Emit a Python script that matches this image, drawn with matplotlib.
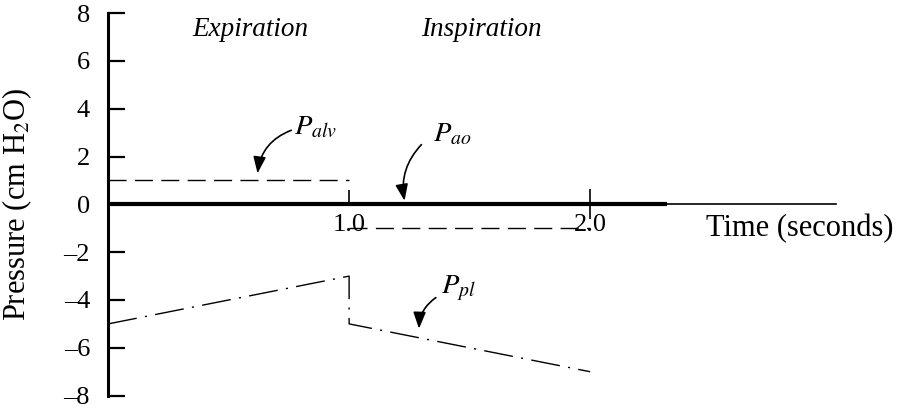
import matplotlib
matplotlib.use('Agg')
import matplotlib.pyplot as plt

# data (seconds / cm H2O)
t_exp = [0.0, 1.0]
t_insp = [1.0, 2.0]
p_alv_exp = [1, 1]
p_alv_insp = [-1, -1]
t_pl = [0.0, 1.0, 1.0, 2.0]
p_pl = [-5, -3, -5, -7]
t_ao = [0.0, 2.32]
p_ao = [0, 0]
yticks = [-8, -6, -4, -2, 0, 2, 4, 6, 8]

plt.rcParams['font.family'] = ['Liberation Serif', 'DejaVu Serif']
plt.rcParams['mathtext.fontset'] = 'stix'
fs = 19.5

fig = plt.figure(figsize=(9.01, 4.09), dpi=100)
ax = fig.add_axes([0.12, 0.0, 0.88, 1.0])
ax.set_xlim(0, 3.29)
ax.set_ylim(-8.56, 8.55)

# spines
for s in ['top', 'right']:
	ax.spines[s].set_visible(False)
ax.spines['left'].set_linewidth(2.2)
ax.spines['left'].set_bounds(-8, 8)
ax.spines['bottom'].set_position(('data', 0))
ax.spines['bottom'].set_bounds(0, 3.02)
ax.spines['bottom'].set_linewidth(1.2)

# y ticks
ax.set_yticks(yticks)
ax.set_yticklabels([f'{v}' if v >= 0 else f'\u2013{-v}' for v in yticks])
ax.tick_params(axis='y', direction='in', length=12, width=1.6, pad=13, labelsize=19)

# x ticks: 1.0 only up, 2.0 crosses the line
ax.set_xticks([1.0])
ax.set_xticklabels(['1.0'])
ax.set_xticks([2.0], minor=True)
ax.set_xticklabels(['2.0'], minor=True)
ax.tick_params(axis='x', which='major', direction='in', length=10, width=1.2, pad=7, labelsize=19)
ax.tick_params(axis='x', which='minor', direction='inout', length=22, width=1.2, pad=-4, labelsize=19)

# curves
ax.plot(t_ao, p_ao, color='black', lw=3, solid_capstyle='butt')
ax.plot(t_exp, p_alv_exp, color='black', lw=1, linestyle=(0, (13, 6)))
ax.plot(t_insp, p_alv_insp, color='black', lw=1, linestyle=(0, (13, 6)))
ax.plot(t_pl, p_pl, color='black', lw=1, linestyle=(0, (21, 6, 1.5, 6)))

# labels
ax.set_ylabel('Pressure (cm H$_2$O)', fontsize=22)
ax.yaxis.set_label_coords(-0.093, 0.5)
ax.text(2.87, -1.0, 'Time (seconds)', fontsize=22, ha='center', va='center')

ax.text(0.59, 7.3, 'Expiration', fontsize=fs, style='italic', ha='center', va='center')
ax.text(1.55, 7.3, 'Inspiration', fontsize=fs, style='italic', ha='center', va='center')

arrow = dict(arrowstyle='-|>,head_length=1.0,head_width=0.38', color='black', lw=1.2,
	shrinkA=0, shrinkB=0)
ax.text(0.77, 3.2, '$P_{alv}$', fontsize=fs + 1, ha='left', va='center')
ax.annotate('', xy=(0.62, 1.3), xytext=(0.76, 3.1),
	arrowprops=dict(arrow, connectionstyle='arc3,rad=0.3'))
ax.text(1.35, 2.9, '$P_{ao}$', fontsize=fs + 1, ha='left', va='center')
ax.annotate('', xy=(1.23, 0.15), xytext=(1.30, 2.5),
	arrowprops=dict(arrow, connectionstyle='arc3,rad=0.25'))
ax.text(1.38, -3.5, '$P_{pl}$', fontsize=fs + 1, ha='left', va='center')
ax.annotate('', xy=(1.29, -5.2), xytext=(1.36, -3.9),
	arrowprops=dict(arrow, connectionstyle='arc3,rad=0.25'))

fig.savefig('out.png', dpi=100)
